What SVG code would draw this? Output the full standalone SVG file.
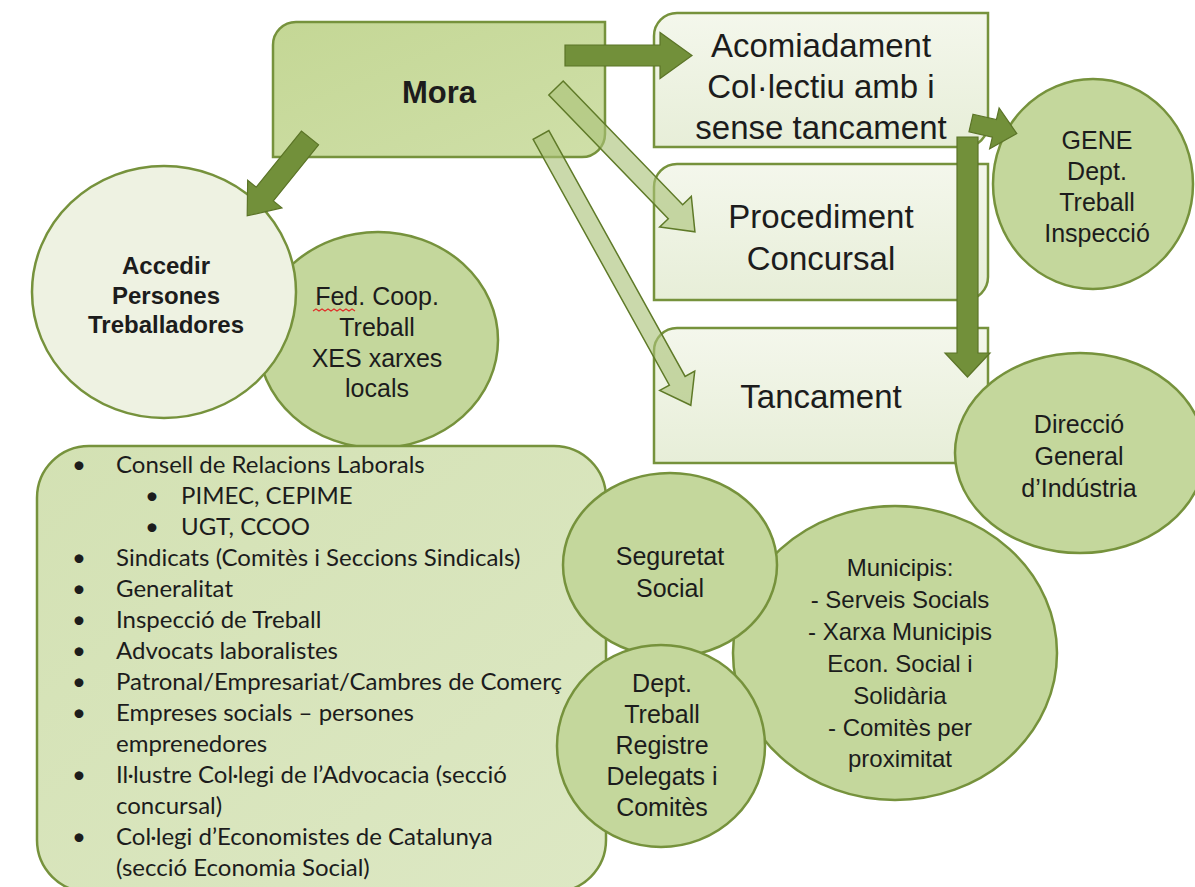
<svg xmlns="http://www.w3.org/2000/svg" width="1195" height="887" viewBox="0 0 1195 887">
  <defs>
    <linearGradient id="gBox" x1="0" y1="0" x2="0" y2="1">
      <stop offset="0" stop-color="#f4f7ec"/>
      <stop offset="1" stop-color="#e7eed8"/>
    </linearGradient>
    <linearGradient id="gMora" x1="0" y1="0" x2="1" y2="1">
      <stop offset="0" stop-color="#c4d795"/>
      <stop offset="1" stop-color="#cfdfa8"/>
    </linearGradient>
    <linearGradient id="gList" x1="0" y1="0" x2="1" y2="1">
      <stop offset="0" stop-color="#d3e1b3"/>
      <stop offset="1" stop-color="#dde8c4"/>
    </linearGradient>
    <style>
      .frame { stroke: #76923c; stroke-width: 2.5; }
      .box { fill: url(#gBox); }
      .disc { fill: #c4d79c; }
      .pale { fill: #eef2e2; }
      .t { font-family: "Liberation Sans", Arial, sans-serif; fill: #1c1c1c; text-anchor: middle; }
      .big { font-size: 33px; }
      .mid { font-size: 25px; }
      .sm { font-size: 24px; }
      .b { font-weight: bold; }
      .list { font-family: Lato, "Open Sans", sans-serif; font-size: 24px; fill: #1c1c1c; }
      .dark { fill: #72903a; stroke: #5b7427; stroke-width: 1.2; stroke-linejoin: miter; }
      .light { fill: #a9c178; fill-opacity: 0.62; stroke: #5f7a28; stroke-width: 1.5; }
    </style>
  </defs>

  <rect width="1195" height="887" fill="#ffffff"/>

  <!-- partner circle behind the workers circle -->
  <g id="fed-coop">
    <ellipse class="disc frame" cx="378" cy="340" rx="120" ry="108"/>
    <text class="t mid" x="377" y="305">Fed. Coop.</text>
    <text class="t mid" x="377" y="336">Treball</text>
    <text class="t mid" x="377" y="367">XES xarxes</text>
    <text class="t mid" x="377" y="397">locals</text>
    <path d="M313,311 l3,-2 3,2 3,-2 3,2 3,-2 3,2 3,-2 3,2 3,-2 3,2 3,-2 3,2 3,-2 3,2" fill="none" stroke="#e0302a" stroke-width="1.2"/>
  </g>

  <g id="accedir">
    <ellipse class="pale frame" cx="164" cy="292" rx="132" ry="126"/>
    <text class="t b sm" x="166" y="274">Accedir</text>
    <text class="t b sm" x="166" y="304">Persones</text>
    <text class="t b sm" x="166" y="333">Treballadores</text>
  </g>

  <!-- list of actors -->
  <g id="actors">
    <rect x="37" y="446" width="569" height="446" rx="52" ry="52" fill="url(#gList)" class="frame"/>
    <g class="list">
      <text x="72" y="473">•</text><text x="116" y="473">Consell de Relacions Laborals</text>
      <text x="145" y="504">•</text><text x="181" y="504">PIMEC, CEPIME</text>
      <text x="145" y="535">•</text><text x="181" y="535">UGT, CCOO</text>
      <text x="72" y="566">•</text><text x="116" y="566">Sindicats (Comitès i Seccions Sindicals)</text>
      <text x="72" y="597">•</text><text x="116" y="597">Generalitat</text>
      <text x="72" y="628">•</text><text x="116" y="628">Inspecció de Treball</text>
      <text x="72" y="659">•</text><text x="116" y="659">Advocats laboralistes</text>
      <text x="72" y="690">•</text><text x="116" y="690">Patronal/Empresariat/Cambres de Comerç</text>
      <text x="72" y="721">•</text><text x="116" y="721">Empreses socials – persones</text>
      <text x="116" y="752">emprenedores</text>
      <text x="72" y="783">•</text><text x="116" y="783">Il·lustre Col·legi de l’Advocacia (secció</text>
      <text x="116" y="814">concursal)</text>
      <text x="72" y="845">•</text><text x="116" y="845">Col·legi d’Economistes de Catalunya</text>
      <text x="116" y="876">(secció Economia Social)</text>
    </g>
  </g>

  <g id="mora">
    <path class="frame" fill="url(#gMora)" d="M273,45 a23,23 0 0 1 23,-23 H605 V134 a23,23 0 0 1 -23,23 H273 Z"/>
    <text class="t b" x="439" y="103" font-size="31">Mora</text>
  </g>

  <g id="acomiadament">
    <path class="box frame" d="M654,36 a23,23 0 0 1 23,-23 H988 V124 a23,23 0 0 1 -23,23 H654 Z"/>
    <text class="t big" x="821" y="57">Acomiadament</text>
    <text class="t big" x="821" y="98">Col·lectiu amb i</text>
    <text class="t big" x="821" y="139">sense tancament</text>
  </g>

  <g id="procediment">
    <path class="box frame" d="M654,187 a23,23 0 0 1 23,-23 H988 V277 a23,23 0 0 1 -23,23 H654 Z"/>
    <text class="t big" x="821" y="228">Procediment</text>
    <text class="t big" x="821" y="270">Concursal</text>
  </g>

  <g id="tancament">
    <path class="box frame" d="M654,351 a23,23 0 0 1 23,-23 H988 V440 a23,23 0 0 1 -23,23 H654 Z"/>
    <text class="t big" x="821" y="408">Tancament</text>
  </g>

  <g id="gene">
    <ellipse class="disc frame" cx="1093" cy="184" rx="100" ry="105"/>
    <text class="t mid" x="1097" y="149">GENE</text>
    <text class="t mid" x="1097" y="180">Dept.</text>
    <text class="t mid" x="1097" y="211">Treball</text>
    <text class="t mid" x="1097" y="242">Inspecció</text>
  </g>

  <g id="direccio">
    <ellipse class="disc frame" cx="1080" cy="453" rx="125" ry="100"/>
    <text class="t mid" x="1079" y="433">Direcció</text>
    <text class="t mid" x="1079" y="465">General</text>
    <text class="t mid" x="1079" y="497">d’Indústria</text>
  </g>

  <g id="municipis">
    <ellipse class="disc frame" cx="895" cy="653" rx="162" ry="147"/>
    <text class="t sm" x="900" y="576">Municipis:</text>
    <text class="t sm" x="900" y="608">- Serveis Socials</text>
    <text class="t sm" x="900" y="640">- Xarxa Municipis</text>
    <text class="t sm" x="900" y="672">Econ. Social i</text>
    <text class="t sm" x="900" y="704">Solidària</text>
    <text class="t sm" x="900" y="736">- Comitès per</text>
    <text class="t sm" x="900" y="767">proximitat</text>
  </g>

  <g id="seguretat">
    <ellipse class="disc frame" cx="670" cy="565" rx="107" ry="92"/>
    <text class="t mid" x="670" y="565">Seguretat</text>
    <text class="t mid" x="670" y="597">Social</text>
  </g>

  <g id="dept-treball">
    <ellipse class="disc frame" cx="661" cy="746" rx="104" ry="101"/>
    <text class="t mid" x="662" y="692">Dept.</text>
    <text class="t mid" x="662" y="723">Treball</text>
    <text class="t mid" x="662" y="754">Registre</text>
    <text class="t mid" x="662" y="785">Delegats i</text>
    <text class="t mid" x="662" y="816">Comitès</text>
  </g>

  <!-- block arrows: drawn along +x, then placed and turned -->
  <g id="connectors">
    <polygon class="light" transform="translate(556,88) rotate(46)" points="0,-10 172,-10 172,-22 200,0 172,22 172,10 0,10"/>
    <polygon class="light" transform="translate(541,135) rotate(61)" points="0,-9 281,-9 281,-20 309,0 281,20 281,9 0,9"/>
    <polygon class="dark" transform="translate(565,55.5)" points="0,-10.5 95,-10.5 95,-23 127,0 95,23 95,10.5 0,10.5"/>
    <polygon class="dark" transform="translate(310,138) rotate(128.9)" points="0,-11 72,-11 72,-22 100,0 72,22 72,11 0,11"/>
    <polygon class="dark" transform="translate(967.5,137) rotate(90)" points="0,-10.5 216,-10.5 216,-22.5 240,0 216,22.5 216,10.5 0,10.5"/>
    <polygon class="dark" transform="translate(971,123) rotate(13)" points="0,-9 24,-9 24,-21 47,0 24,21 24,9 0,9"/>
  </g>
</svg>
